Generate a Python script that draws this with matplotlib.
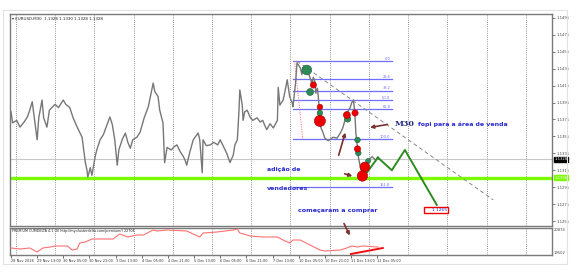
import matplotlib.pyplot as plt
from matplotlib.patches import Rectangle

# EURUSD M30 - fechamento (indice da barra, preco)
barras = [0, 2, 7, 11, 16, 20, 23, 26, 28, 32,
          34, 38, 40, 44, 47, 50, 54, 58, 64, 67,
          72, 76, 81, 84, 87, 89, 91, 93, 94, 97,
          99, 103, 105, 109, 113, 116, 121, 124, 127, 130,
          132, 136, 140, 143, 146, 149, 154, 158, 163, 168,
          171, 174, 176, 180, 182, 186, 188, 191, 196, 200,
          203, 207, 211, 213, 215, 219, 223, 226, 229, 231,
          234, 235, 239, 244, 248, 253, 256, 261, 264, 268,
          272, 274, 277, 279, 280, 283, 284, 286, 289, 293,
          296, 301, 305, 308, 311, 313, 317, 321, 326, 327,
          329, 333, 335, 338, 341, 344, 345, 348, 350, 354,
          356, 357, 360, 362, 364, 366, 368, 370, 372, 373,
          375, 376, 377, 378, 379, 382, 384, 388, 390, 394,
          399, 403, 406, 408, 410, 412, 415, 417, 419, 420,
          421, 422, 424, 425, 427, 430, 431, 433, 437, 442,
          446, 449, 450]
fechamento = [1.1384, 1.1371, 1.1374, 1.1366, 1.1372, 1.1378, 1.1386, 1.1396, 1.1381, 1.1351,
              1.1377, 1.1398, 1.1377, 1.1366, 1.1386, 1.1389, 1.1393, 1.1389, 1.1398, 1.1393,
              1.1389, 1.1377, 1.1366, 1.1360, 1.1354, 1.1339, 1.1324, 1.1315, 1.1307, 1.1318,
              1.1309, 1.1331, 1.1339, 1.1351, 1.1357, 1.1365, 1.1378, 1.1369, 1.1351, 1.1321,
              1.1339, 1.1351, 1.1359, 1.1348, 1.1341, 1.1351, 1.1354, 1.1360, 1.1377, 1.1390,
              1.1404, 1.1418, 1.1408, 1.1402, 1.1386, 1.1371, 1.1324, 1.1342, 1.1339, 1.1343,
              1.1345, 1.1337, 1.1331, 1.1327, 1.1321, 1.1337, 1.1351, 1.1355, 1.1359, 1.1351,
              1.1312, 1.1351, 1.1344, 1.1345, 1.1348, 1.1345, 1.1351, 1.1341, 1.1335, 1.1324,
              1.1333, 1.1345, 1.1351, 1.1386, 1.1410, 1.1392, 1.1374, 1.1384, 1.1386, 1.1377,
              1.1374, 1.1377, 1.1372, 1.1374, 1.1367, 1.1363, 1.1370, 1.1365, 1.1374, 1.1413,
              1.1392, 1.1398, 1.1407, 1.1422, 1.1402, 1.1395, 1.1390, 1.1416, 1.1442, 1.1436,
              1.1428, 1.1436, 1.1438, 1.1434, 1.1430, 1.1424, 1.1418, 1.1425, 1.1419, 1.1406,
              1.1412, 1.1402, 1.1390, 1.1378, 1.1366, 1.1359, 1.1353, 1.1350, 1.1351, 1.1354,
              1.1353, 1.1359, 1.1365, 1.1372, 1.1378, 1.1384, 1.1389, 1.1395, 1.1398, 1.1390,
              1.1378, 1.1359, 1.1342, 1.1331, 1.1321, 1.1309, 1.1319, 1.1321, 1.1327, 1.1331,
              1.1327, 1.1331, 1.1328]

# indicador cumdelta
ind_barras = [0, 11, 23, 32, 39, 48, 54, 69, 75, 81,
              84, 91, 99, 125, 133, 143, 154, 162, 174, 179,
              191, 215, 231, 235, 252, 272, 277, 280, 293, 308,
              326, 333, 341, 345, 354, 366, 378, 384, 403, 411,
              417, 424, 430, 449]
ind_valores = [19741, 19681, 19741, 19502, 19741, 19800, 19860, 19860, 19621, 19681,
               20039, 20099, 20277, 20277, 20576, 20397, 20516, 20516, 20814, 20755,
               20814, 20755, 20397, 20635, 20695, 20814, 20874, 20635, 20456, 20397,
               20397, 20218, 20039, 20218, 20218, 19920, 19621, 19562, 19621, 19741,
               19860, 19800, 19860, 19800]
div_barras = [416, 455]
div_valores = [19383, 19741]

# fibonacci
fib_barras = [345, 466]
fib_alto = 1.1444
fib_baixo = 1.1352
fib_niveis = [0.0, 23.6, 38.2, 50.0, 61.8, 100.0, 161.8]

# linha de tendencia e projecao
tend_barras = [350, 590]
tend_precos = [1.1444, 1.1280]
proj_barras = [433, 449, 466, 482, 521]
proj_precos = [1.1309, 1.1330, 1.1315, 1.1339, 1.1274]

# bolinhas (barra, preco, tamanho)
pts_verdes_b = [362, 366, 378, 412, 424, 425, 437]
pts_verdes_p = [1.14335, 1.14075, 1.13827, 1.13756, 1.13508, 1.13354, 1.13260]
pts_verdes_s = [7, 5, 4, 4.5, 4, 4, 3.5]
pts_verm_b = [370, 378, 378, 411, 421, 424, 433, 430]
pts_verm_p = [1.14158, 1.13898, 1.13733, 1.13803, 1.13827, 1.13402, 1.13189, 1.13082]
pts_verm_s = [4.5, 4, 8, 5, 4.5, 4.5, 7, 7.5]

preco_atual = 1.1328
nivel_verde = 1.1306
alvo = 1.1265

eixo_precos = [1.1255, 1.1275, 1.1295, 1.1315, 1.1335, 1.1355, 1.1375, 1.1395,
               1.1415, 1.1435, 1.1455, 1.1475, 1.1495]
datas_barras = [0, 32, 64, 96, 128, 160, 192, 224, 256, 288, 320, 352, 384, 416, 448]
datas = ["28 Nov 2018", "29 Nov 13:00", "30 Nov 05:00", "30 Nov 21:00", "3 Dec 13:00",
         "4 Dec 05:00", "4 Dec 21:00", "5 Dec 13:00", "6 Dec 05:00", "6 Dec 21:00",
         "7 Dec 13:00", "10 Dec 05:00", "10 Dec 21:00", "11 Dec 13:00", "12 Dec 05:00"]
dias = list(range(6, 640, 48))

W, H = 580, 272
fig = plt.figure(figsize=(W / 100, H / 100), dpi=100)
fig.patch.set_facecolor('white')
fig.add_artist(Rectangle((3 / W, 1 - 264 / H), 564 / W, 254 / H, transform=fig.transFigure,
                         fill=False, ec='#e2e2e2', lw=0.8))

ax1 = fig.add_axes([10 / W, 1 - 226 / H, 542 / W, 212 / H])
ax2 = fig.add_axes([10 / W, 1 - 255 / H, 542 / W, 27 / H])

for ax in (ax1, ax2):
    ax.set_xlim(-1.2, 662)
    for s in ax.spines.values():
        s.set_color('#7a7a7a')
        s.set_linewidth(1.0)
    for d in dias:
        ax.axvline(d, color='#707070', lw=0.6, ls=(0, (1, 1.6)), zorder=0)
    ax.yaxis.tick_right()
    ax.tick_params(axis='y', length=2, width=0.5, pad=1, labelsize=2.7, colors='#444444')

ax1.set_ylim(1.12491, 1.14997)
ax1.set_xticks([])
ax1.set_yticks(eixo_precos)
ax1.set_yticklabels([f"{p:.4f}" for p in eixo_precos])

ax1.axhline(preco_atual, color='#c8c8c8', lw=0.8, zorder=1)
ax1.axhline(nivel_verde, color='#7cfc00', lw=2.4, zorder=2)
ax1.plot(barras, fechamento, color='#777777', lw=1.0, zorder=3)

# fibo
rng = fib_alto - fib_baixo
for n in fib_niveis:
    p = fib_alto - n / 100 * rng
    ax1.plot(fib_barras, [p, p], color='#6f6fff', lw=0.9, zorder=2)
    ax1.text(fib_barras[1] - 2, p + 0.00005, f"{n:.1f}", fontsize=2.6, color='#6f6fff',
             ha='right', va='bottom')
ax1.plot([347, 357], [fib_alto, fib_baixo], color='#ff6060', lw=0.7, ls=(0, (1, 1.5)), zorder=2)

ax1.plot(tend_barras, tend_precos, color='#888888', lw=0.7, ls=(0, (4, 3)), zorder=2)
ax1.plot(proj_barras, proj_precos, color='#2e8b22', lw=1.4, zorder=4)

ax1.scatter(pts_verdes_b, pts_verdes_p, s=[v ** 2 for v in pts_verdes_s], color='#2e8b57',
            edgecolors='#1d5e3a', linewidths=0.4, zorder=5)
ax1.scatter(pts_verm_b, pts_verm_p, s=[v ** 2 for v in pts_verm_s], color='#ee0000',
            edgecolors='#a00000', linewidths=0.4, zorder=5)

seta = dict(arrowstyle='-|>', color='#7b2f2f', lw=1.2, mutation_scale=5)
ax1.annotate('', xy=(436, 1.13650), xytext=(464, 1.13697), arrowprops=seta)
ax1.annotate('', xy=(410, 1.13626), xytext=(400, 1.13295), arrowprops=seta)
ax1.annotate('', xy=(421, 1.13071), xytext=(405, 1.13118), arrowprops=seta)
ax2.annotate('', xy=(416, 20337), xytext=(406, 1.1255), textcoords=ax1.transData,
             arrowprops=seta, annotation_clip=False)

azul = '#2a2ad0'
ax1.text(469, 1.13697, "M30", fontsize=5.8, family='DejaVu Serif', fontweight='bold',
         color='#1c2a7a', va='center')
ax1.text(498, 1.13697, "fopi para a área de venda", fontsize=4.5, fontweight='bold',
         color=azul, va='center')
ax1.text(313, 1.13153, "adição de", fontsize=4.5, fontweight='bold', color=azul, va='center')
ax1.text(313, 1.12929, "vendedores", fontsize=4.5, fontweight='bold', color=azul, va='center')
ax1.text(351, 1.12680, "começaram a comprar", fontsize=4.6, fontweight='bold', color=azul,
         va='center')
ax1.text(520, 1.12681, "     " + f"{alvo:.4f}", fontsize=3.2, color='#2a2ad0', ha='center',
         va='center', bbox=dict(boxstyle='square,pad=0.25', fc='white', ec='#ee0000', lw=1))

ax1.text(0.004, 0.985, "▾ EURUSD,M30  1.1328 1.1330 1.1328 1.1328", transform=ax1.transAxes,
         fontsize=2.9, va='top', color='#222222')

yt = ax1.get_yaxis_transform()
ax1.text(1.004, preco_atual, f"{preco_atual:.4f}", transform=yt, fontsize=2.7, color='white',
         va='center', bbox=dict(boxstyle='square,pad=0.15', fc='black', ec='black'))
ax1.text(1.004, nivel_verde, f"{nivel_verde:.4f}", transform=yt, fontsize=2.7, color='white',
         va='center', bbox=dict(boxstyle='square,pad=0.15', fc='#7cfc00', ec='#7cfc00'))

# painel do indicador
ax2.set_ylim(19323, 20934)
ax2.set_yticks([19502, 20874])
ax2.set_yticklabels(["19502", "20874"])
ax2.tick_params(axis='y', length=0)
ax2.plot(ind_barras, ind_valores, color='#ff7070', lw=0.8, zorder=3)
ax2.plot(div_barras, div_valores, color='#ee1010', lw=1.4, zorder=3)
ax2.text(0.004, 0.95, "PREMIUM CUMDELTA 4.1 (0) http://my.clusterdelta.com/premium/) 22704",
         transform=ax2.transAxes, fontsize=2.4, va='top', color='#222222')
ax2.set_xticks(datas_barras)
ax2.set_xticklabels(datas, ha='left')
ax2.tick_params(axis='x', length=2, width=0.5, pad=1, labelsize=2.5, colors='#333333')

fig.savefig('out.png', dpi=100)
